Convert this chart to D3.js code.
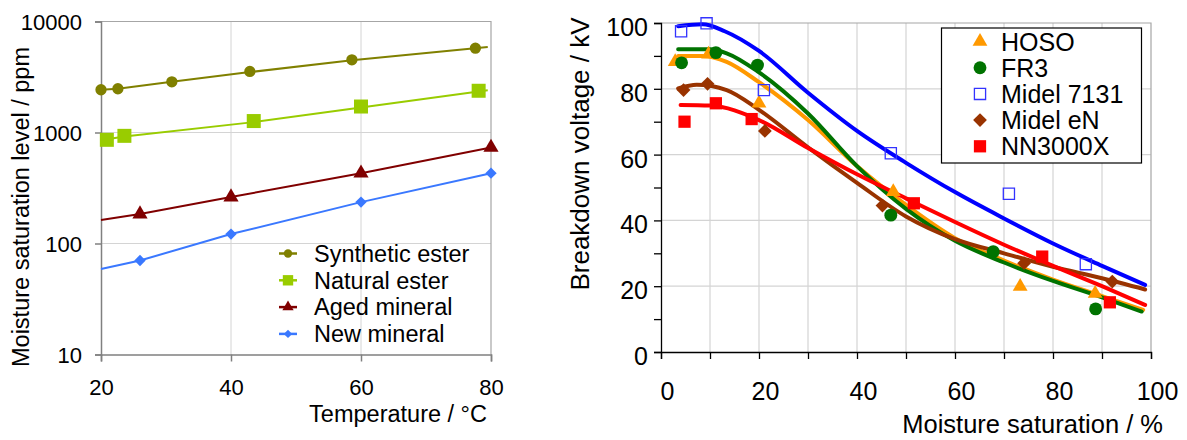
<!DOCTYPE html>
<html>
<head>
<meta charset="utf-8">
<script src="https://cdn.jsdelivr.net/npm/d3@7"></script>
<style>
  html, body { margin: 0; padding: 0; background: #fff; }
  svg { display: block; font-family: "Liberation Sans", Arial, sans-serif; }
</style>
</head>
<body>
<svg id="chart" width="1187" height="440"></svg>
<script>
// ---------- Left panel: moisture saturation level vs temperature ----------
const tempTicks = [20, 40, 60, 80];
const ppmTicks = [10, 100, 1000, 10000];

const leftNames = ["Synthetic ester", "Natural ester", "Aged mineral", "New mineral"];
const leftColors = ["#808000", "#99cc00", "#800000", "#3a78ff"];

// measured points [temperature °C, ppm]
const syntheticPts = [[20, 2427], [22.6, 2478], [30.9, 2864], [42.9, 3548], [58.6, 4520], [77.6, 5754]];
const naturalPts   = [[20.9, 859], [23.6, 933], [43.5, 1268], [60, 1714], [78.1, 2377]];
const agedPts      = [[26, 184], [40, 262], [60, 430], [80, 733]];
const newPts       = [[26, 70.3], [40, 121.6], [60, 236], [80, 430]];

// connecting trend lines [temperature °C, ppm]
const syntheticLine = [[20, 2427], [22.6, 2478], [30.9, 2864], [42.9, 3500], [58.6, 4480], [79.5, 5900]];
const naturalLine   = [[20, 850], [23.6, 920], [43.5, 1240], [60, 1680], [79.5, 2400]];
const agedLine      = [[20, 163], [26, 184], [40, 262], [60, 430], [80, 733]];
const newLine       = [[20, 59], [26, 70.3], [40, 121.6], [60, 236], [80, 430]];

// ---------- Right panel: breakdown voltage vs moisture saturation ----------
const satTicks = [0, 10, 20, 30, 40, 50, 60, 70, 80, 90, 100];
const kvTicks = [0, 10, 20, 30, 40, 50, 60, 70, 80, 90, 100];

const rightNames = ["HOSO", "FR3", "Midel 7131", "Midel eN", "NN3000X"];
const rightColors = ["#ff9900", "#007300", "#0000ff", "#993300", "#ff0000"];

// measured points [moisture saturation %, kV]
const hosoPts  = [[2.9, 88.2], [9.7, 90.5], [20, 75.6], [47.4, 48.7], [73.3, 19.9], [88.6, 17.8]];
const fr3Pts   = [[4.2, 87.9], [11.2, 91], [19.7, 87.2], [46.9, 41.6], [67.8, 30.5], [88.7, 13.1]];
const midel7131Pts = [[4.1, 97.5], [9.3, 99.9], [21, 79.6], [46.9, 60.4], [71, 48.1], [86.7, 26.7]];
const midelENPts   = [[4.6, 79.6], [9.5, 81.5], [21.2, 67.2], [45.2, 44.5], [74.1, 27], [92.1, 21.4]];
const nn3000xPts   = [[4.8, 70], [11.2, 75.6], [18.5, 70.8], [51.6, 45.2], [77.8, 29], [91.6, 15.1]];

// fitted curves [moisture saturation %, kV]
const hosoFit  = [[3.5, 90], [8.6, 90], [13.4, 88.2], [20, 82], [30, 70.5], [40, 56.5], [50, 44.7], [60, 34.6], [70, 27.8], [80, 22], [90, 17], [98.4, 12.8]];
const fr3Fit   = [[3.5, 92], [10, 92], [13.4, 90.8], [20, 85], [30, 72.5], [40, 56.5], [50, 43.5], [60, 33.8], [70, 27.2], [80, 21.6], [90, 16.6], [98.1, 12.3]];
const midel7131Fit = [[3.5, 99], [8.5, 99.6], [13, 97.5], [20, 91.5], [30, 78.8], [40, 67.2], [50, 57.5], [60, 48.6], [70, 40.6], [80, 33], [90, 26.2], [98.8, 20.4]];
const midelENFit   = [[3.5, 80.1], [7.3, 81.2], [13.4, 79.6], [20, 73.6], [30, 62.2], [40, 51.4], [50, 41.2], [60, 34.3], [70, 30], [80, 25.9], [90, 22.4], [98.8, 19]];
const nn3000xFit   = [[4, 75.1], [10, 74.9], [20, 70.5], [30, 62], [40, 54], [50, 46.7], [60, 39.5], [70, 32.6], [80, 26.2], [90, 20], [98.8, 14.3]];

const svg = d3.select("#chart");

// ===================== LEFT PANEL =====================
const xL = d3.scaleLinear().domain([20, 80]).range([101, 491]);
const yL = d3.scaleLog().domain([10, 10000]).range([354.5, 21.5]);
const gL = svg.append("g");

// grid
gL.append("g").selectAll("line").data([40, 60]).join("line")
  .attr("x1", d => xL(d)).attr("x2", d => xL(d))
  .attr("y1", yL(10)).attr("y2", yL(10000))
  .attr("stroke", "#d4d4d4").attr("stroke-width", 1);
gL.append("g").selectAll("line").data([100, 1000]).join("line")
  .attr("x1", xL(20)).attr("x2", xL(80))
  .attr("y1", d => yL(d)).attr("y2", d => yL(d))
  .attr("stroke", "#d4d4d4").attr("stroke-width", 1);
// frame top/right
gL.append("path")
  .attr("d", `M${xL(20)},${yL(10000)}H${xL(80)}V${yL(10)}`)
  .attr("fill", "none").attr("stroke", "#a6a6a6").attr("stroke-width", 1.2);

// axes
const axLx = gL.append("g").attr("transform", `translate(0,${yL(10)})`)
  .call(d3.axisBottom(xL).tickValues(tempTicks).tickSize(7).tickPadding(18).tickFormat(d3.format("d")));
const axLy = gL.append("g").attr("transform", `translate(${xL(20)},0)`)
  .call(d3.axisLeft(yL).tickValues(ppmTicks).tickSize(6).tickPadding(13).tickFormat(d3.format("d")));
[axLx, axLy].forEach(a => {
  a.select(".domain").attr("stroke", "#808080").attr("stroke-width", 1.5);
  a.selectAll(".tick line").attr("stroke", "#808080").attr("stroke-width", 1.5);
  a.selectAll("text").attr("font-size", 22).attr("fill", "#000")
    .attr("font-family", "Liberation Sans, Arial, sans-serif");
});
axLy.selectAll("text").attr("dy", "0.36em");

// titles
gL.append("text").attr("x", 487).attr("y", 422).attr("text-anchor", "end")
  .attr("font-size", 23.5).text("Temperature / °C");
gL.append("text").attr("transform", "translate(29,207) rotate(-90)")
  .attr("text-anchor", "middle").attr("font-size", 23.5)
  .text("Moisture saturation level / ppm");

const leftLines = [syntheticLine, naturalLine, agedLine, newLine];
const leftPts = [syntheticPts, naturalPts, agedPts, newPts];
const leftSym = [
  { type: d3.symbolCircle, size: 100, rot: 0 },
  { type: d3.symbolSquare, size: 196, rot: 0 },
  { type: d3.symbolTriangle, size: 100, rot: 0 },
  { type: d3.symbolSquare, size: 64, rot: 45 }
];
const lineL = d3.line().x(d => xL(d[0])).y(d => yL(d[1]));

leftLines.forEach((ln, i) => {
  gL.append("path").datum(ln).attr("d", lineL)
    .attr("fill", "none").attr("stroke", leftColors[i]).attr("stroke-width", 2);
});
leftPts.forEach((pts, i) => {
  const s = leftSym[i];
  gL.append("g").selectAll("path").data(pts).join("path")
    .attr("d", d3.symbol().type(s.type).size(s.size))
    .attr("transform", d => `translate(${xL(d[0])},${yL(d[1])}) rotate(${s.rot})`)
    .attr("fill", leftColors[i]);
});

// legend
const legL = gL.append("g");
leftNames.forEach((name, i) => {
  const cy = 253.5 + i * 26.8;
  const s = leftSym[i];
  legL.append("line").attr("x1", 279).attr("x2", 297).attr("y1", cy).attr("y2", cy)
    .attr("stroke", leftColors[i]).attr("stroke-width", 2.5);
  legL.append("path")
    .attr("d", d3.symbol().type(s.type).size(s.size * 0.55))
    .attr("transform", `translate(288,${cy}) rotate(${s.rot})`)
    .attr("fill", leftColors[i]);
  legL.append("text").attr("x", 314).attr("y", cy).attr("dy", "0.35em")
    .attr("font-size", 23.5).text(name);
});

// ===================== RIGHT PANEL =====================
const xR = d3.scaleLinear().domain([0, 100]).range([661, 1151]);
const yR = d3.scaleLinear().domain([0, 100]).range([352, 23]);
const gR = svg.append("g");

gR.append("g").selectAll("line").data(satTicks.filter(d => d > 0 && d < 100)).join("line")
  .attr("x1", d => xR(d)).attr("x2", d => xR(d))
  .attr("y1", yR(0)).attr("y2", yR(100))
  .attr("stroke", "#d4d4d4").attr("stroke-width", 1.2);
gR.append("g").selectAll("line").data(kvTicks.filter(d => d > 0 && d < 100 && d % 20 === 0)).join("line")
  .attr("x1", xR(0)).attr("x2", xR(100))
  .attr("y1", d => yR(d)).attr("y2", d => yR(d))
  .attr("stroke", "#d4d4d4").attr("stroke-width", 1.2);
gR.append("path")
  .attr("d", `M${xR(0)},${yR(100)}H${xR(100)}V${yR(0)}`)
  .attr("fill", "none").attr("stroke", "#a6a6a6").attr("stroke-width", 1.2);

const axRx = gR.append("g").attr("transform", `translate(0,${yR(0)})`)
  .call(d3.axisBottom(xR).tickValues(satTicks).tickSize(7).tickPadding(23)
    .tickFormat(d => d % 20 === 0 ? d : ""));
const axRy = gR.append("g").attr("transform", `translate(${xR(0)},0)`)
  .call(d3.axisLeft(yR).tickValues(kvTicks).tickSize(7).tickPadding(6)
    .tickFormat(d => d % 20 === 0 ? d : ""));
[axRx, axRy].forEach(a => {
  a.select(".domain").attr("stroke", "#000").attr("stroke-width", 1.3);
  a.selectAll(".tick line").attr("stroke", "#000").attr("stroke-width", 1.3);
  a.selectAll("text").attr("font-size", 25).attr("fill", "#000")
    .attr("font-family", "Liberation Sans, Arial, sans-serif");
});
axRx.selectAll("text").attr("dx", 6);
axRy.selectAll("text").attr("dy", "0.5em");

gR.append("text").attr("x", 1163).attr("y", 433).attr("text-anchor", "end")
  .attr("font-size", 25.5).text("Moisture saturation / %");
gR.append("text").attr("transform", "translate(589,154) rotate(-90)")
  .attr("text-anchor", "middle").attr("font-size", 26)
  .text("Breakdown voltage / kV");

// fitted curves
const fits = [hosoFit, fr3Fit, midel7131Fit, midelENFit, nn3000xFit];
const lineR = d3.line().x(d => xR(d[0])).y(d => yR(d[1])).curve(d3.curveMonotoneX);
fits.forEach((f, i) => {
  gR.append("path").datum(f).attr("d", lineR)
    .attr("fill", "none").attr("stroke", rightColors[i]).attr("stroke-width", 4)
    .attr("stroke-linecap", "round");
});

// measured markers
const rightPts = [hosoPts, fr3Pts, midel7131Pts, midelENPts, nn3000xPts];
const rightSym = [
  { type: d3.symbolTriangle, size: 95, rot: 0, fill: true },
  { type: d3.symbolCircle, size: 130, rot: 0, fill: true },
  { type: d3.symbolSquare, size: 125, rot: 0, fill: false },
  { type: d3.symbolSquare, size: 95, rot: 45, fill: true },
  { type: d3.symbolSquare, size: 150, rot: 0, fill: true }
];
const markerColors = ["#ff9900", "#007300", "#3333ff", "#993300", "#ff0000"];
rightPts.forEach((pts, i) => {
  const s = rightSym[i];
  gR.append("g").selectAll("path").data(pts).join("path")
    .attr("d", d3.symbol().type(s.type).size(s.size))
    .attr("transform", d => `translate(${xR(d[0])},${yR(d[1])}) rotate(${s.rot})`)
    .attr("fill", s.fill ? markerColors[i] : "none")
    .attr("stroke", s.fill ? "none" : markerColors[i])
    .attr("stroke-width", 1.3);
});

// legend
const legR = gR.append("g");
legR.append("rect").attr("x", 941.5).attr("y", 28).attr("width", 200).attr("height", 135)
  .attr("fill", "#fff").attr("stroke", "#000").attr("stroke-width", 1.2);
rightNames.forEach((name, i) => {
  const cy = 41.5 + i * 26.2;
  const s = rightSym[i];
  legR.append("path")
    .attr("d", d3.symbol().type(s.type).size(s.size))
    .attr("transform", `translate(980,${cy}) rotate(${s.rot})`)
    .attr("fill", s.fill ? markerColors[i] : "none")
    .attr("stroke", s.fill ? "none" : markerColors[i])
    .attr("stroke-width", 1.3);
  legR.append("text").attr("x", 1001).attr("y", cy).attr("dy", "0.36em")
    .attr("font-size", 25).text(name);
});
</script>
</body>
</html>
